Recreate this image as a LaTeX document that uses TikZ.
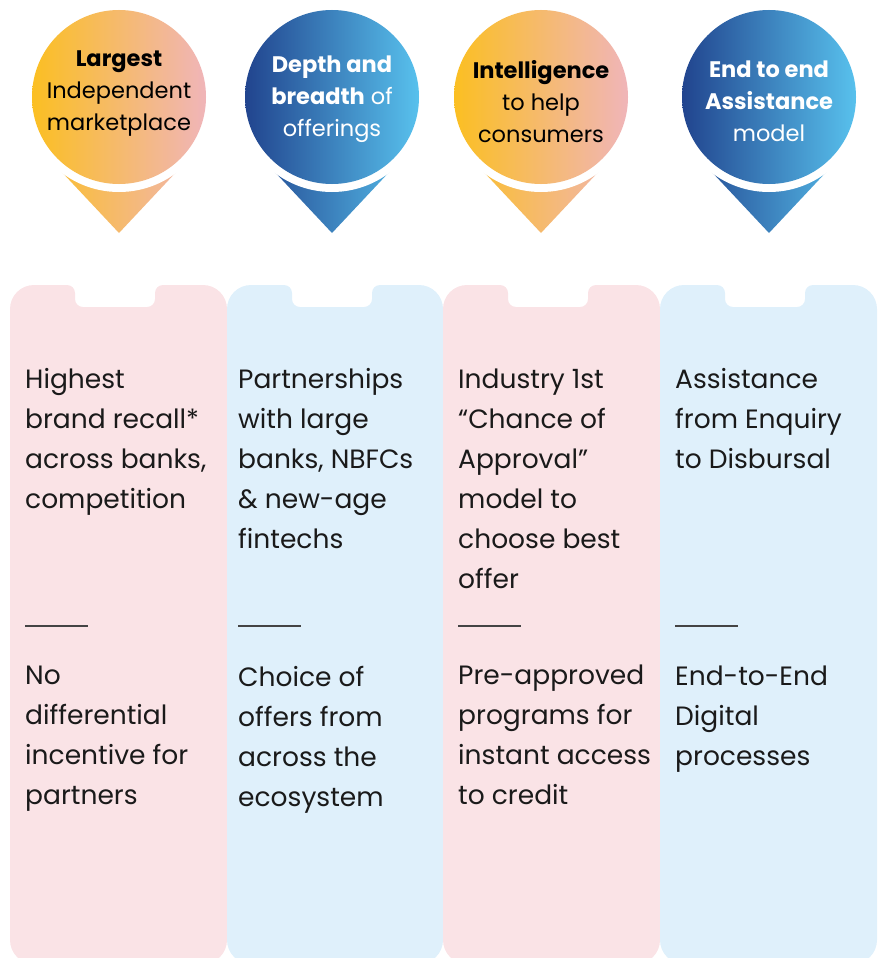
\documentclass[tikz,border=0pt]{standalone}
\usepackage{fontspec}
\setmainfont{Poppins}
\usepackage{tikz}
\definecolor{cardpink}{HTML}{FAE3E6}
\definecolor{cardblue}{HTML}{DFF0FB}
\definecolor{goldleft}{HTML}{FBBF22}
\definecolor{goldright}{HTML}{F0B5B9}
\definecolor{navyleft}{HTML}{21448E}
\definecolor{navyright}{HTML}{58C1ED}
\definecolor{ruleline}{HTML}{444444}
\definecolor{inkline}{HTML}{1A1A1A}

\begin{document}
\begin{tikzpicture}[x=1pt, y=-1pt,
    gold/.style={left color=goldleft, right color=goldright},
    navy/.style={left color=navyleft, right color=navyright},
    pintext/.style={anchor=base, align=center, inner sep=0pt, font=\fontsize{22.5}{32}\selectfont},
    cardtext/.style={anchor=base west, align=left, inner sep=0pt, text=inkline, font=\fontsize{26.5}{40}\selectfont},
    divider/.style={draw=ruleline, line width=1.3pt}]
    \useasboundingbox (0,0) rectangle (885,958);
    \fill[cardpink, rounded corners=24pt] (10,964) -- (10,285) [rounded corners=8pt] -- (75,285) -- (75,307) -- (155,307) -- (155,285) [rounded corners=24pt] -- (227,285) -- (227,964) -- cycle;
    \fill[cardblue, rounded corners=24pt] (227,964) -- (227,285) [rounded corners=8pt] -- (292,285) -- (292,307) -- (372,307) -- (372,285) [rounded corners=24pt] -- (443,285) -- (443,964) -- cycle;
    \fill[cardpink, rounded corners=24pt] (443,964) -- (443,285) [rounded corners=8pt] -- (508,285) -- (508,307) -- (588,307) -- (588,285) [rounded corners=24pt] -- (660,285) -- (660,964) -- cycle;
    \fill[cardblue, rounded corners=24pt] (660,964) -- (660,285) [rounded corners=8pt] -- (725,285) -- (725,307) -- (805,307) -- (805,285) [rounded corners=24pt] -- (877,285) -- (877,964) -- cycle;
    \begin{scope}
        \clip (58,168) -- (119,233) -- (180,168) -- cycle;
        \shade[gold] (32,150) rectangle (206,240);
    \end{scope}
    \fill[white] (119,97) circle (95pt);
    \shade[gold] (119,97) circle (87pt);
    \begin{scope}
        \clip (271,168) -- (332,233) -- (393,168) -- cycle;
        \shade[navy] (245,150) rectangle (419,240);
    \end{scope}
    \fill[white] (332,97) circle (95pt);
    \shade[navy] (332,97) circle (87pt);
    \begin{scope}
        \clip (480,168) -- (541,233) -- (602,168) -- cycle;
        \shade[gold] (454,150) rectangle (628,240);
    \end{scope}
    \fill[white] (541,97) circle (95pt);
    \shade[gold] (541,97) circle (87pt);
    \begin{scope}
        \clip (708,168) -- (769,233) -- (830,168) -- cycle;
        \shade[navy] (682,150) rectangle (856,240);
    \end{scope}
    \fill[white] (769,97) circle (95pt);
    \shade[navy] (769,97) circle (87pt);
    \node[pintext, text=black] (largest) at (119,130) {\textbf{Largest}\\Independent\\marketplace};
    \node[pintext, text=white] (depth) at (332,136) {\textbf{Depth and}\\\textbf{breadth} of\\offerings};
    \node[pintext, text=black] (intel) at (541,142) {\textbf{Intelligence}\\to help\\consumers};
    \node[pintext, text=white] (assist) at (769,141) {\textbf{End to end}\\\textbf{Assistance}\\model};
    \node[cardtext] (recall) at (25,508) {Highest\\brand recall*\\across banks,\\competition};
    \node[cardtext] (partners) at (238,548) {Partnerships\\with large\\banks, NBFCs\\\& new-age\\fintechs};
    \node[cardtext] (approval) at (458,588) {Industry 1st\\“Chance of\\Approval”\\model to\\choose best\\offer};
    \node[cardtext] (enquiry) at (675,468) {Assistance\\from Enquiry\\to Disbursal};
    \coordinate (rule1a) at (25,626);
    \coordinate (rule1b) at (88,626);
    \coordinate (rule2a) at (238,626);
    \coordinate (rule2b) at (301,626);
    \coordinate (rule3a) at (458,626);
    \coordinate (rule3b) at (521,626);
    \coordinate (rule4a) at (675,626);
    \coordinate (rule4b) at (738,626);
    \draw[divider] (rule1a) -- (rule1b);
    \draw[divider] (rule2a) -- (rule2b);
    \draw[divider] (rule3a) -- (rule3b);
    \draw[divider] (rule4a) -- (rule4b);
    \node[cardtext] (incentive) at (25,804) {No\\differential\\incentive for\\partners};
    \node[cardtext] (choice) at (238,806) {Choice of\\offers from\\across the\\ecosystem};
    \node[cardtext] (preapp) at (458,804) {Pre-approved\\programs for\\instant access\\to credit};
    \node[cardtext] (digital) at (675,765) {End-to-End\\Digital\\processes};
\end{tikzpicture}
\end{document}
